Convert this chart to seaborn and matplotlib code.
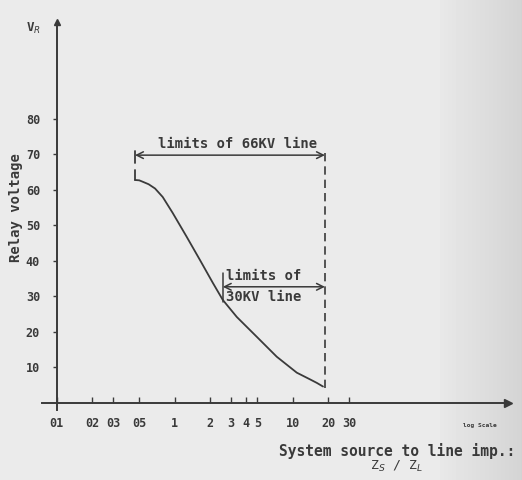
import numpy as np
import pandas as pd
import matplotlib
matplotlib.use("Agg")
import matplotlib.pyplot as plt
import seaborn as sns

# curve (Zs/Zl on log scale, relay voltage)
zs_zl = [0.46, 0.50, 0.535, 0.60, 0.68, 0.79, 0.96, 1.26, 1.63, 2.10, 2.55, 3.35, 4.95, 7.3, 10.8, 14.0, 16.0, 18.0]
v_relay = [62.8, 62.7, 62.3, 61.6, 60.4, 58.0, 53.5, 46.8, 40.3, 33.8, 29.0, 24.2, 18.6, 13.0, 8.5, 6.6, 5.6, 4.6]

x_ticks = [0.1, 0.2, 0.3, 0.5, 1, 2, 3, 4, 5, 10, 20, 30]
x_tick_labels = ["01", "02", "03", "05", "1", "2", "3", "4", "5", "10", "20", "30"]
y_ticks = [10, 20, 30, 40, 50, 60, 70, 80]

lim_66_left = 0.46
lim_30_left = 2.55
lim_right = 18.7
arrow_66_y = 69.8
arrow_30_y = 32.7

sns.set_theme(style="white")
plt.rcParams['font.family'] = ['DejaVu Sans Mono', 'DejaVu Sans']
ink = "#3a3a3a"
paper = "#ebebeb"

fig = plt.figure(figsize=(5.22, 4.80), dpi=100, facecolor=paper)

# scan background: light paper getting darker on the right edge
bg = fig.add_axes([0, 0, 1, 1], zorder=-5)
grad = np.ones((2, 522)) * 235
grad[:, 440:] = np.linspace(232, 212, 82)
bg.imshow(grad, cmap="gray", vmin=0, vmax=255, aspect="auto", extent=[0, 1, 0, 1])
bg.set_axis_off()

ax = fig.add_axes([0.080, 0.146, 0.893, 0.808])
ax.patch.set_alpha(0)
ax.set_xscale("log")
ax.set_xlim(0.0746, 664)
ax.set_ylim(-2, 107.3)

for s in ["top", "right"]:
    ax.spines[s].set_visible(False)
ax.spines["left"].set_position(("data", 0.1))
ax.spines["bottom"].set_position(("data", 0))
for s in ["left", "bottom"]:
    ax.spines[s].set_color(ink)
    ax.spines[s].set_linewidth(1.4)

# arrow heads on the axes
ax.plot(1, 0, ">", color=ink, ms=6, transform=ax.get_yaxis_transform(), clip_on=False)
ax.plot(0.1, 1, "^", color=ink, ms=5, transform=ax.get_xaxis_transform(), clip_on=False)

ax.set_xticks(x_ticks)
ax.set_xticklabels(x_tick_labels)
ax.xaxis.set_minor_locator(matplotlib.ticker.NullLocator())
ax.set_yticks(y_ticks)
ax.tick_params(axis="x", direction="in", length=4, width=1, colors=ink, pad=10, labelsize=8.5)
ax.tick_params(axis="y", direction="out", length=3, width=1, colors=ink, pad=9, labelsize=8.5)
ax.tick_params(left=True, bottom=True)
for lab in ax.get_xticklabels() + ax.get_yticklabels():
    lab.set_fontweight("bold")

df = pd.DataFrame({"zs_zl": zs_zl, "v": v_relay})
sns.lineplot(data=df, x="zs_zl", y="v", ax=ax, color=ink, lw=1.3, sort=False)
ax.set_xlabel("")
ax.set_ylabel("")

# brackets at the start of the curve and 30 kV limit
ax.plot([lim_66_left, lim_66_left], [67.6, 70.9], color=ink, lw=1.3)
ax.plot([lim_66_left, lim_66_left], [62.8, 65.6], color=ink, lw=1.3)
ax.plot([lim_30_left, lim_30_left], [28.5, 36.6], color=ink, lw=1.1)
ax.plot([lim_right, lim_right], [4.2, 71.3], color=ink, lw=1.2, ls=(0, (5, 3)))

arrow_kw = dict(arrowstyle="<->", color=ink, lw=1.1, mutation_scale=12, shrinkA=0, shrinkB=0)
ax.annotate("", xy=(lim_66_left, arrow_66_y), xytext=(lim_right, arrow_66_y), arrowprops=arrow_kw)
ax.annotate("", xy=(lim_30_left, arrow_30_y), xytext=(lim_right, arrow_30_y), arrowprops=arrow_kw)

txt = dict(color=ink, fontweight="bold", fontsize=10)
ax.text(3.42, 73.0, "limits of 66KV line", ha="center", va="center", **txt)
ax.text(2.72, 35.8, "limits of", ha="left", va="center", **txt)
ax.text(2.72, 29.8, "30KV line", ha="left", va="center", **txt)

fig.text(33 / 522, 1 - 28 / 480, "V$_R$", color=ink, fontsize=9, fontweight="bold", ha="center", va="center")
fig.text(16 / 522, 1 - 208 / 480, "Relay voltage", rotation=90, color=ink, fontsize=10, fontweight="bold",
         ha="center", va="center")
fig.text(480 / 522, 1 - 425 / 480, "log Scale", color=ink, fontsize=4.5, fontweight="bold", ha="center", va="center")
fig.text(279 / 522, 1 - 451 / 480, "System source to line imp.:", color=ink, fontsize=10.5, fontweight="bold",
         ha="left", va="center")
fig.text(396 / 522, 1 - 466 / 480, "Z$_S$ / Z$_L$", color=ink, fontsize=9.5, ha="center", va="center")

fig.savefig("out.png", dpi=100, facecolor=paper)
